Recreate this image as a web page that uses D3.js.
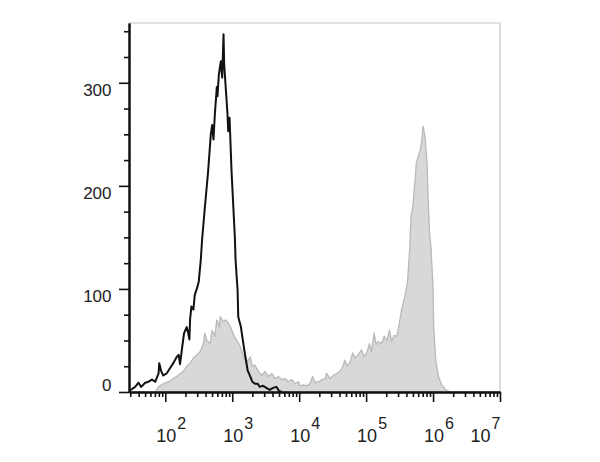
<!DOCTYPE html>
<html><head><meta charset="utf-8">
<script src="https://cdn.jsdelivr.net/npm/d3@7"></script>
<style>body{margin:0;background:#fff}svg{display:block}</style>
</head><body><svg id="c" width="600" height="462"></svg>
<script>
// Unstained / isotype control (black outline) – log10 intensity and event counts
const blackLog = [1.46,1.55,1.60,1.64,1.70,1.75,1.80,1.85,1.90,1.91,1.94,1.97,2.02,2.07,2.12,2.17,2.20,2.22,2.25,2.28,2.32,2.34,2.36,2.37,2.39,2.42,2.44,2.48,2.50,2.53,2.55,2.59,2.64,2.68,2.70,2.72,2.74,2.77,2.78,2.80,2.83,2.85,2.87,2.88,2.90,2.93,2.94,2.96,2.99,3.02,3.04,3.05,3.08,3.09,3.13,3.15,3.18,3.20,3.23,3.27,3.30,3.34,3.38,3.41,3.46,3.51,3.56,3.61,3.66,3.70,3.74];
const blackCount = [1,5,9,5,9,10,12,10,18,28,20,16,18,23,28,34,36,27,42,57,63,58,51,70,83,80,94,102,107,128,148,178,214,250,259,245,269,296,287,308,321,305,347,318,298,269,253,266,214,175,149,128,99,73,63,54,41,33,21,15,10,8,8,5,6,4,2,4,5,1,0];
// Stained sample (grey filled)
const grayLog = [1.46,1.85,1.90,1.97,2.05,2.12,2.19,2.27,2.32,2.37,2.42,2.47,2.52,2.57,2.59,2.62,2.67,2.70,2.74,2.77,2.81,2.82,2.87,2.90,2.94,2.98,3.03,3.07,3.12,3.17,3.22,3.27,3.30,3.34,3.39,3.44,3.49,3.54,3.59,3.64,3.69,3.74,3.79,3.84,3.89,3.94,3.99,4.01,4.06,4.11,4.16,4.20,4.24,4.29,4.34,4.39,4.41,4.46,4.51,4.56,4.61,4.66,4.68,4.72,4.76,4.80,4.83,4.88,4.93,4.97,5.01,5.05,5.08,5.12,5.15,5.18,5.23,5.27,5.31,5.35,5.38,5.42,5.46,5.50,5.53,5.58,5.62,5.65,5.67,5.70,5.73,5.75,5.78,5.81,5.83,5.85,5.88,5.91,5.93,5.95,5.97,6.00,6.01,6.04,6.08,6.13,6.18,6.22,6.26,7.0];
const grayCount = [0,0,5,8,10,13,16,20,25,28,33,36,39,47,57,50,47,60,54,70,63,73,68,70,67,62,54,50,44,34,29,34,25,26,20,16,20,15,18,13,15,12,13,10,12,8,10,6,7,6,8,15,9,10,12,13,18,13,16,18,20,26,31,25,29,38,33,36,41,34,38,47,39,57,46,49,47,54,50,60,49,55,54,68,80,93,108,138,170,181,205,222,229,235,243,258,248,222,180,152,140,100,62,31,15,7,3,1,0,0];
const yTickLabels = [0,100,200,300];
const xTickExps = [2,3,4,5,6,7];

const svg = d3.select('#c');
const L = 129, R = 500, T = 23, B = 392;
const x = d3.scaleLog().domain([Math.pow(10,1.458), 1e7]).range([L,R]);
const y = d3.scaleLinear().domain([0,358]).range([B,T]);

const grayPts = grayLog.map((l,i)=>[Math.pow(10,l), grayCount[i]]);
const blackPts = blackLog.map((l,i)=>[Math.pow(10,l), blackCount[i]]);

// frame (top/right)
svg.append('path').attr('d',`M${L},${T}H${R}V${B}`).attr('fill','none').attr('stroke','#c8c8c8').attr('stroke-width',1.2);

svg.append('path').datum(grayPts)
  .attr('d', d3.area().x(d=>x(d[0])).y0(y(0)).y1(d=>y(d[1])))
  .attr('fill','#d8d8d8').attr('stroke','#b9b9b9').attr('stroke-width',1.3).attr('stroke-linejoin','round');

svg.append('path').datum(blackPts)
  .attr('d', d3.line().x(d=>x(d[0])).y(d=>y(d[1])))
  .attr('fill','none').attr('stroke','#111').attr('stroke-width',2).attr('stroke-linejoin','round');

// x axis ticks
const majors = xTickExps.map(e=>Math.pow(10,e));
const minors = [];
for (let e=1;e<7;e++) for (let k=2;k<10;k++){ const v=k*Math.pow(10,e); if (v>=x.domain()[0] && v<1e7) minors.push(v); }

const gxMin = svg.append('g').attr('transform',`translate(0,${B})`)
  .call(d3.axisBottom(x).tickValues(minors).tickSize(5).tickSizeOuter(0).tickFormat(''));
const gxMaj = svg.append('g').attr('transform',`translate(0,${B})`)
  .call(d3.axisBottom(x).tickValues(majors).tickSize(10).tickSizeOuter(0).tickFormat(''));
[gxMin,gxMaj].forEach(g=>{g.selectAll('line').attr('stroke','#111').attr('stroke-width',1.6);g.select('.domain').attr('stroke','#111').attr('stroke-width',2);});

// y axis ticks
const yMinors = d3.range(25,358,25).filter(v=>v%100!==0);
const gyMin = svg.append('g').attr('transform',`translate(${L},0)`)
  .call(d3.axisLeft(y).tickValues(yMinors).tickSize(5).tickSizeOuter(0).tickFormat(''));
const gyMaj = svg.append('g').attr('transform',`translate(${L},0)`)
  .call(d3.axisLeft(y).tickValues(yTickLabels).tickSize(10).tickSizeOuter(0).tickFormat(''));
[gyMin,gyMaj].forEach(g=>{g.selectAll('line').attr('stroke','#111').attr('stroke-width',1.6);g.select('.domain').attr('stroke','#111').attr('stroke-width',2);});

// y labels
svg.append('g').selectAll('text').data(yTickLabels).join('text')
  .attr('x',111.5).attr('y',d=>y(d) + (d===0 ? -1.5 : 13.5))
  .attr('text-anchor','end').attr('font-family','Liberation Sans, Arial, sans-serif').attr('font-size',17).attr('fill','#222')
  .text(d=>d);

// x labels 10^n
const xl = svg.append('g').attr('font-family','Liberation Sans, Arial, sans-serif').attr('fill','#222');
xTickExps.forEach(e=>{
  const px = x(Math.pow(10,e));
  const startX = e===7 ? 470.5 : px - 9;
  const t = xl.append('text').attr('x',startX).attr('y',442).attr('font-size',18);
  t.append('tspan').text('10');
  t.append('tspan').attr('dx',1).attr('dy',-13).attr('font-size',16).text(e);
});
</script>
</body></html>
